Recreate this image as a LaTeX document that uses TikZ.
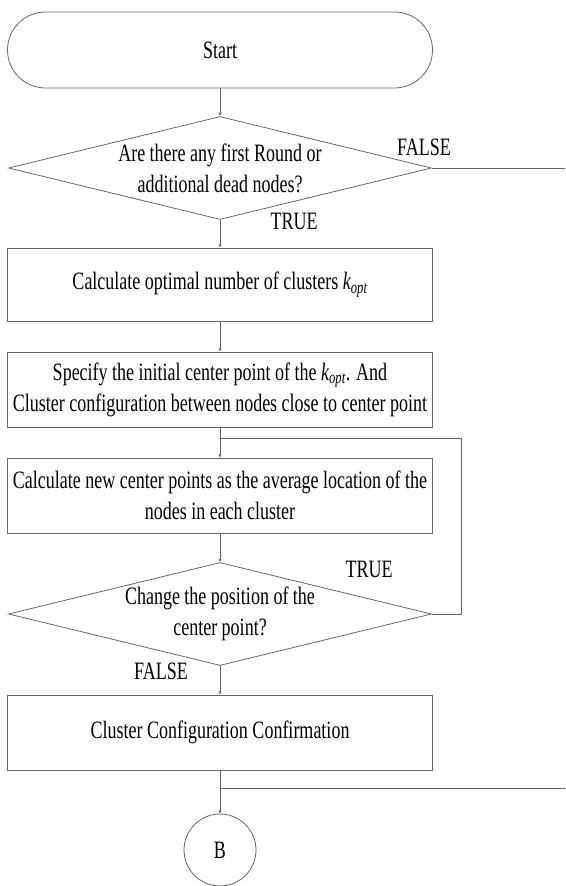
\documentclass[tikz,border=0pt]{standalone}
\usepackage{fontspec}
\setmainfont{Liberation Serif}[FakeStretch=0.72]
\usepackage{tikz}
\usetikzlibrary{shapes.geometric,arrows.meta}

\begin{document}
\begin{tikzpicture}[x=1pt, y=-1pt,
    every node/.style={font=\fontsize{25}{31}\selectfont},
    terminal/.style={rectangle, draw=black!60, line width=0.8pt, rounded corners=38pt, minimum width=425pt, minimum height=76pt},
    box/.style={rectangle, draw=black!60, line width=0.8pt, minimum width=425pt, minimum height=75pt, align=center, inner sep=2pt},
    decision/.style={diamond, draw=black!60, line width=0.8pt, aspect=4.1, inner sep=0pt, minimum width=423pt, minimum height=103pt},
    connector/.style={circle, draw=black!60, line width=0.8pt, minimum size=72pt},
    flow/.style={draw=black!60, line width=0.8pt, -{Stealth[length=4pt,width=3pt]}},
    line/.style={draw=black!60, line width=0.8pt}]
    \useasboundingbox (0,0) rectangle (565,886);

    \node[terminal] (start) at (220,50) {Start};
    \node[decision, label={[align=center]center:Are there any first Round or\\additional dead nodes?}] (dead) at (220,168) {};
    \node[box, minimum height=73pt] (kopt) at (220,284.5) {Calculate optimal number of clusters {\itshape k}\textsubscript{\itshape opt}};
    \node[box] (init) at (220,389.5) {Specify the initial center point of the {\itshape k}\textsubscript{\itshape opt}. And\\Cluster configuration between nodes close to center point};
    \node[box] (newc) at (220,495.5) {Calculate new center points as the average location of the\\nodes in each cluster};
    \node[decision, label={[align=center]center:Change the position of the\\center point?}] (move) at (220,614) {};
    \node[box] (conf) at (220,732.5) {Cluster Configuration Confirmation};
    \node[connector] (B) at (220,850) {B};

    \node (f1) at (424,147) {FALSE};
    \node (t1) at (294,221) {TRUE};
    \node (t2) at (369,569) {TRUE};
    \node (f2) at (161,671) {FALSE};

    \coordinate (out1) at (565,168);
    \coordinate (loopin) at (220,438);
    \coordinate (loopr) at (461,438);
    \coordinate (split) at (220,788);
    \coordinate (out2) at (565,788);

    \draw[flow] (start) -- (dead);
    \draw[line] (dead.east) -- (out1);
    \draw[flow] (dead) -- (kopt);
    \draw[flow] (kopt) -- (init);
    \draw[flow] (init) -- (newc);
    \draw[flow] (newc) -- (move);
    \draw[line] (move.east) -| (loopr) -- (loopin);
    \draw[flow] (move) -- (conf);
    \draw[flow] (conf) -- (B);
    \draw[line] (split) -- (out2);
\end{tikzpicture}
\end{document}
